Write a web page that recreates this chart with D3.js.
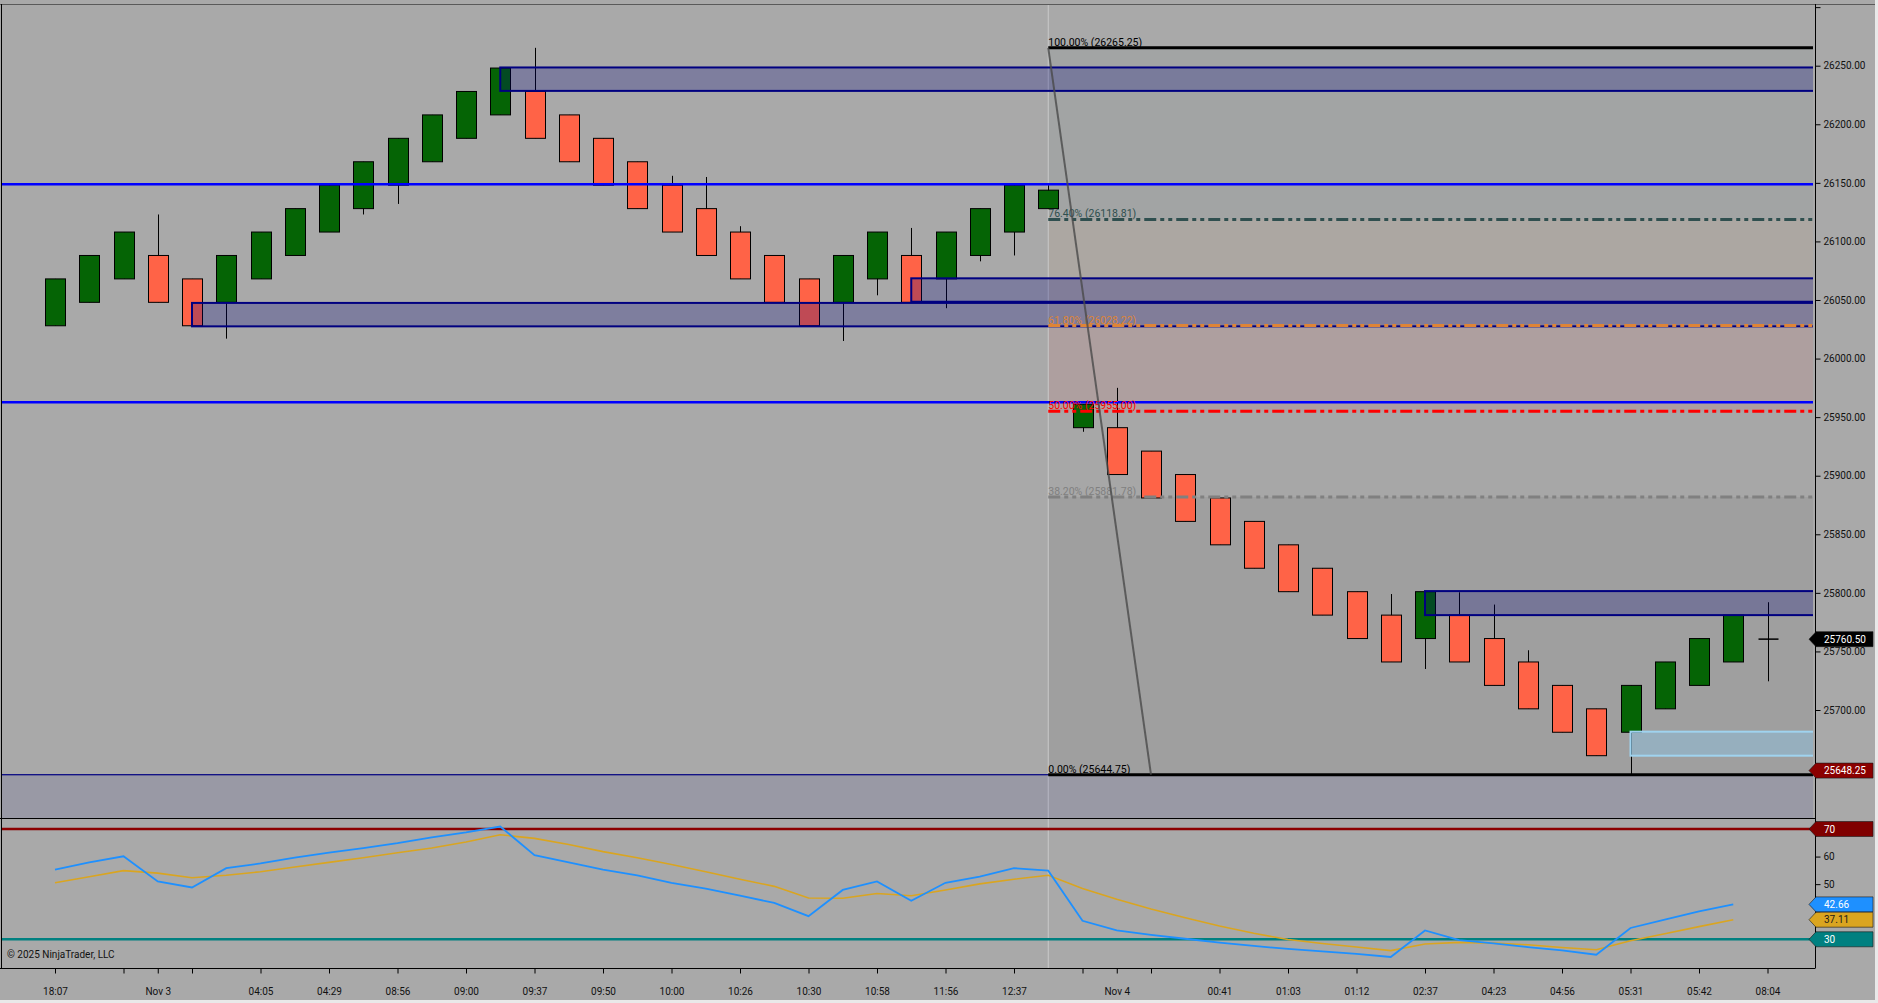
<!DOCTYPE html>
<html><head><meta charset="utf-8">
<script src="https://cdn.jsdelivr.net/npm/d3@7"></script>
<style>
html,body{margin:0;padding:0;background:#a9a9a9;overflow:hidden}
svg{display:block}
text{font-family:Roboto,"Noto Sans",sans-serif}
</style></head><body>
<svg id="c" width="1878" height="1003"></svg>
<script>
// ---------------- DATA ----------------
const opens  = [26028,26048,26068,26088,26068,26048,26068,26088,26108,26128,26148,26168,26188,26208,26228,26208,26188,26168,26148,26128,26108,26088,26068,26048,26068,26088,26068,26088,26108,26128,25941,25941,25921,25901,25881,25861,25841,25821,25801,25781,25761,25781,25761,25741,25721,25701,25681,25701,25721,25741,25760.5];
const highs  = [26068,26088,26108,26123,26068,26088,26108,26128,26148,26168,26188,26208,26228,26248,26265.25,26208,26188,26168,26156,26155,26113,26088,26068,26088,26108,26111.5,26108,26128,26148,26148,25961,25975,25921,25901,25881,25861,25841,25821,25801,25799,25801,25800.5,25790,25751,25721,25701,25721,25741,25761,25781,25792];
const lows   = [26028,26048,26068,26048,26028,26017,26068,26088,26108,26123,26132,26168,26188,26208,26188,26168,26148,26128,26108,26088,26068,26048,26028,26015,26054,26048,26043,26083,26088,26128,25937.5,25901,25881,25861,25841,25821,25801,25781,25761,25741,25735,25741,25721,25701,25681,25661,25644.75,25701,25721,25741,25724.5];
const closes = [26068,26088,26108,26048,26028,26088,26108,26128,26148,26168,26188,26208,26228,26248,26188,26168,26148,26128,26108,26088,26068,26048,26028,26088,26108,26048,26108,26128,26148,26143.75,25961,25901,25881,25861,25841,25821,25801,25781,25761,25741,25801,25741,25721,25701,25681,25661,25721,25741,25761,25781,25760.5];

const rsiValues = [55.3,57.9,60.1,51.0,48.8,55.8,57.5,59.6,61.4,63.1,
                   64.9,67.0,68.8,70.9,60.5,57.9,55.3,53.2,50.5,48.4,
                   45.8,43.2,38.4,47.9,51.0,44.0,50.5,52.7,55.8,54.9,
                   36.7,33.2,31.6,30.2,28.8,27.6,26.5,25.6,24.7,23.6,
                   33.2,29.7,28.5,27.2,26.0,24.4,34.1,37.1,40.1,42.66];
const rsiAvg    = [50.5,52.7,54.9,54.0,52.3,53.2,54.5,56.2,57.9,59.6,
                   61.4,63.1,65.3,67.9,66.6,64.4,61.8,59.6,57.1,54.5,
                   51.8,49.2,45.0,44.9,46.6,45.8,47.9,50.1,51.8,53.2,
                   48.4,44.5,41.0,37.8,34.8,32.2,29.9,28.5,27.2,25.9,
                   28.3,28.9,28.6,28.0,27.0,26.2,29.5,32.0,34.6,37.11];

const timeTickIdx    = [0,2,3,4,6,8,10,12,14,16,18,20,22,24,26,28,30,31,32,34,36,38,40,42,44,46,48,50];
const timeTickLabels = ["18:07","","Nov 3","","04:05","04:29","08:56","09:00","09:37","09:50","10:00","10:26","10:30","10:58","11:56","12:37","","Nov 4","","00:41","01:03","01:12","02:37","04:23","04:56","05:31","05:42","08:04"];

const priceTicks = [26300,26250,26200,26150,26100,26050,26000,25950,25900,25850,25800,25750,25700];
const rsiTicks   = [70,60,50,40,30];
const rsiTickLabels = ["","60","50","",""];

const fibPct   = [100, 76.4, 61.8, 50, 38.2, 0];
const fibPrice = [26265.25, 26118.81, 26028.22, 25955.00, 25881.78, 25644.75];
const fibStartIdx = 29, fibEndIdx = 32;

const hLinePrices = [26148.75, 25962.75];

const zoneStartIdx = [13, 4, 25, 40, 46];
const zoneHigh     = [26248.5, 26047.5, 26068.5, 25801.5, 25681.5];
const zoneLow      = [26228.5, 26027.5, 26048.5, 25781, 25661];
const bottomZoneTop = 25644.75;

const priceMarkers = [25760.50, 25648.25];
const rsiMarkers   = [70, 42.66, 37.11, 30];

const sessionIdx = 29;
const copyright = "\u00A9 2025 NinjaTrader, LLC";

// ---------------- LAYOUT ----------------
const W = 1878, H = 1003;
const plotL = 2, plotR = 1813, pTop = 5, pBot = 818, rBot = 968, axisX = 1815.5;

const x = d3.scaleLinear().domain([0, 50]).range([55, 1767.5]);
const yP = d3.scaleLinear().domain([25700, 26250]).range([710, 65.7]);
const yR = d3.scaleLinear().domain([30, 70]).range([939.3, 829]);

const svg = d3.select('#c');
const defs = svg.append('defs');
defs.append('clipPath').attr('id','clipP').append('rect')
  .attr('x',plotL).attr('y',pTop).attr('width',plotR-plotL).attr('height',pBot-pTop);
defs.append('clipPath').attr('id','clipR').append('rect')
  .attr('x',plotL).attr('y',pBot+1).attr('width',plotR-plotL).attr('height',rBot-pBot-1);

svg.append('rect').attr('width',W).attr('height',H).attr('fill','#a9a9a9');
svg.append('rect').attr('x',0).attr('y',1000).attr('width',W).attr('height',3).attr('fill','#e9e9e9');
svg.append('rect').attr('x',1875).attr('y',0).attr('width',3).attr('height',H).attr('fill','#e9e9e9');

// ---------------- PRICE PANEL ----------------
const gp = svg.append('g').attr('clip-path','url(#clipP)');
const fibColors = ['#000000','#2f4f4f','#de8436','#ff0000','#808080','#000000'];
const fx0 = x(fibStartIdx);

// fib fills
for (let k = 0; k < fibPrice.length - 1; k++) {
  gp.append('rect').attr('x', fx0).attr('y', yP(fibPrice[k]))
    .attr('width', plotR - fx0).attr('height', yP(fibPrice[k+1]) - yP(fibPrice[k]))
    .attr('fill', fibColors[k+1]).attr('fill-opacity', 0.06);
}
// session line
gp.append('line').attr('x1',x(sessionIdx)).attr('x2',x(sessionIdx)).attr('y1',pTop).attr('y2',pBot)
  .attr('stroke','#c9c9c9').attr('stroke-width',1);

// candles
const idx = d3.range(opens.length);
const cx = i => Math.round(x(i)) + 0.5;
gp.selectAll('line.wick').data(idx).join('line').attr('class','wick')
  .attr('x1', cx).attr('x2', cx)
  .attr('y1', i => yP(highs[i])).attr('y2', i => yP(lows[i]))
  .attr('stroke','#000').attr('stroke-width',1);
gp.selectAll('rect.body').data(idx.filter(i => opens[i] !== closes[i])).join('rect').attr('class','body')
  .attr('x', i => cx(i) - 10).attr('width', 20)
  .attr('y', i => yP(Math.max(opens[i], closes[i])))
  .attr('height', i => Math.abs(yP(opens[i]) - yP(closes[i])))
  .attr('fill', i => closes[i] > opens[i] ? '#056405' : '#ff6347')
  .attr('stroke','#000').attr('stroke-width',1);
gp.selectAll('line.doji').data(idx.filter(i => opens[i] === closes[i])).join('line').attr('class','doji')
  .attr('x1', i => cx(i) - 10).attr('x2', i => cx(i) + 10)
  .attr('y1', i => yP(opens[i])).attr('y2', i => yP(opens[i]))
  .attr('stroke','#000').attr('stroke-width',1.5);

// zones
zoneStartIdx.forEach((s, k) => {
  const light = k === 4;
  gp.append('rect').attr('x', x(s)).attr('y', yP(zoneHigh[k]))
    .attr('width', plotR + 20 - x(s)).attr('height', yP(zoneLow[k]) - yP(zoneHigh[k]))
    .attr('fill', light ? 'rgb(135,206,250)' : 'rgb(0,0,128)')
    .attr('fill-opacity', light ? 0.35 : 0.25)
    .attr('stroke', light ? '#9fd3ef' : '#000080').attr('stroke-width', 2);
});
gp.append('rect').attr('x', -10).attr('y', yP(bottomZoneTop))
  .attr('width', plotR + 30).attr('height', pBot + 20 - yP(bottomZoneTop))
  .attr('fill','rgb(0,0,128)').attr('fill-opacity',0.09)
  .attr('stroke','#000080').attr('stroke-width',1.2);

// horizontal blue lines
gp.selectAll('line.hl').data(hLinePrices).join('line').attr('class','hl')
  .attr('x1', plotL).attr('x2', plotR).attr('y1', d => yP(d)).attr('y2', d => yP(d))
  .attr('stroke','#0000ff').attr('stroke-width',2.6);

// fib lines and labels
fibPrice.forEach((p, k) => {
  const solid = (k === 0 || k === fibPrice.length - 1);
  gp.append('line').attr('x1', fx0).attr('x2', plotR).attr('y1', yP(p)).attr('y2', yP(p))
    .attr('stroke', fibColors[k]).attr('stroke-width', 3)
    .attr('stroke-dasharray', solid ? null : '12,4,4,4,4,4');
  gp.append('text').attr('x', fx0).attr('y', yP(p) - 2)
    .attr('font-size', 10.5).attr('fill', fibColors[k])
    .text(`${fibPct[k].toFixed(2)}% (${p.toFixed(2)})`);
});
gp.append('line').attr('x1', fx0).attr('y1', yP(fibPrice[0]))
  .attr('x2', x(fibEndIdx)).attr('y2', yP(fibPrice[fibPrice.length-1]))
  .attr('stroke','#4a4a4a').attr('stroke-opacity',0.8).attr('stroke-width',2);

// ---------------- RSI PANEL ----------------
const gr = svg.append('g').attr('clip-path','url(#clipR)');
gr.append('line').attr('x1',x(sessionIdx)).attr('x2',x(sessionIdx)).attr('y1',pBot).attr('y2',rBot)
  .attr('stroke','#c9c9c9').attr('stroke-width',1);
gr.append('line').attr('x1',plotL).attr('x2',plotR).attr('y1',yR(70)).attr('y2',yR(70))
  .attr('stroke','#8b0000').attr('stroke-width',2.5);
gr.append('line').attr('x1',plotL).attr('x2',plotR).attr('y1',yR(30)).attr('y2',yR(30))
  .attr('stroke','#008080').attr('stroke-width',2.5);
const ln = d3.line().x((d, i) => x(i)).y(d => yR(d));
gr.append('path').datum(rsiAvg).attr('d', ln).attr('fill','none')
  .attr('stroke','#daa520').attr('stroke-width',1.6);
gr.append('path').datum(rsiValues).attr('d', ln).attr('fill','none')
  .attr('stroke','#1e90ff').attr('stroke-width',1.8);
svg.append('text').attr('x',7).attr('y',958).attr('font-size',10).attr('fill','#111').text(copyright);

// ---------------- BORDERS ----------------
const border = (x1,y1,x2,y2,c) => svg.append('line').attr('x1',x1).attr('y1',y1).attr('x2',x2).attr('y2',y2)
  .attr('stroke',c).attr('stroke-width',1);
border(0, 4.5, 1875, 4.5, '#5a5a5a');
border(1.5, 4, 1.5, rBot, '#000');
border(0, pBot + 0.5, axisX, pBot + 0.5, '#000');
border(axisX, 4, axisX, rBot, '#000');
border(0, rBot + 0.5, axisX, rBot + 0.5, '#000');

// ---------------- AXES ----------------
function styleAxis(g) {
  g.select('.domain').remove();
  g.selectAll('.tick line').attr('stroke','#000');
  g.selectAll('.tick text').attr('fill','#111').attr('font-size',10)
    .attr('font-family','Roboto,"Noto Sans",sans-serif');
}
svg.append('g').attr('transform',`translate(${axisX},0)`)
  .call(d3.axisRight(yP).tickValues(priceTicks).tickSize(5).tickPadding(3)
    .tickFormat(d => d > 26260 ? '' : d.toFixed(2)))
  .call(styleAxis);
svg.append('g').attr('transform',`translate(${axisX},0)`)
  .call(d3.axisRight(yR).tickValues(rsiTicks).tickSize(5).tickPadding(3)
    .tickFormat((d, i) => rsiTickLabels[i]))
  .call(styleAxis);
svg.append('g').attr('transform',`translate(0,${rBot + 0.5})`)
  .call(d3.axisBottom(x).tickValues(timeTickIdx).tickSize(5).tickPadding(14)
    .tickFormat((d, i) => timeTickLabels[i]))
  .call(styleAxis);

// ---------------- AXIS MARKERS ----------------
function marker(y, txt, fill, tcol) {
  const h = 7.5, x0 = axisX + 0.5, tip = 1809, x1 = 1873;
  svg.append('path')
    .attr('d', `M${tip},${y} L${x0},${y-h} L${x1},${y-h} L${x1},${y+h} L${x0},${y+h} Z`)
    .attr('fill', fill).attr('stroke','#1a1a1a').attr('stroke-width',0.6);
  svg.append('text').attr('x', 1824).attr('y', y).attr('dy','0.35em')
    .attr('font-size',10).attr('fill',tcol).text(txt);
}
marker(yP(priceMarkers[0]), priceMarkers[0].toFixed(2), '#000000', '#fff');
marker(yP(priceMarkers[1]), priceMarkers[1].toFixed(2), '#8b0000', '#fff');
const rsiMarkFill = ['#800000','#1e90ff','#daa520','#008080'];
const rsiMarkText = ['#fff','#fff','#1a1a1a','#fff'];
rsiMarkers.forEach((v, k) => marker(yR(v), String(v), rsiMarkFill[k], rsiMarkText[k]));
</script>
</body></html>
